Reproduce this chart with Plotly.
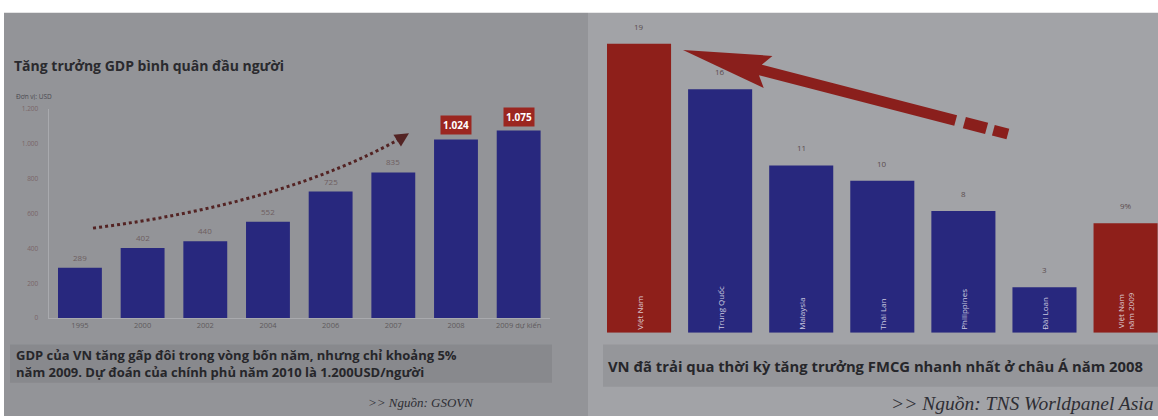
import plotly.graph_objects as go
import math

W, H = 1158, 420

# ---------------- data ----------------
gdp_years = ["1995", "2000", "2002", "2004", "2006", "2007", "2008", "2009 dự kiến"]
gdp_values = [289, 402, 440, 552, 725, 835, 1024, 1075]
gdp_labels = ["289", "402", "440", "552", "725", "835", "1.024", "1.075"]
gdp_highlight = [False, False, False, False, False, False, True, True]
gdp_tickvals = [0, 200, 400, 600, 800, 1000, 1200]
gdp_ticktext = ["0", "200", "400", "600", "800", "1.000", "1.200"]

fmcg_countries = ["Việt Nam", "Trung Quốc", "Malaysia", "Thái Lan", "Philippines", "Đài Loan", "Việt Nam<br>năm 2009"]
fmcg_values = [19, 16, 11, 10, 8, 3, 7.2]
fmcg_labels = ["19", "16", "11", "10", "8", "3", "9%"]
fmcg_is_vn = [True, False, False, False, False, False, True]

BLUE = "#28287e"
RED = "#8e1f1a"


def P(px, py):
    return px / W, 1 - py / H


fig = go.Figure()

# left chart bars
fig.add_trace(go.Bar(
    x=list(range(len(gdp_years))), y=gdp_values, marker=dict(color=BLUE, line=dict(width=0)),
    width=0.7, xaxis="x", yaxis="y", showlegend=False, hoverinfo="skip"))

# right chart bars
fig.add_trace(go.Bar(
    x=list(range(len(fmcg_countries))), y=fmcg_values, width=0.79,
    marker=dict(color=[RED if v else BLUE for v in fmcg_is_vn], line=dict(width=0)),
    text=fmcg_countries, textposition="inside", insidetextanchor="start",
    textangle=-90, textfont=dict(size=8, color="rgba(235,235,245,0.85)", family="Open Sans"),
    xaxis="x2", yaxis="y2", showlegend=False, hoverinfo="skip", cliponaxis=False))

shapes = []
annotations = []

# backgrounds
shapes.append(dict(type="rect", xref="paper", yref="paper", x0=P(4, 0)[0], x1=P(588, 0)[0],
                   y0=0, y1=P(0, 8)[1], fillcolor="#939498", line=dict(width=0), layer="below"))
shapes.append(dict(type="rect", xref="paper", yref="paper", x0=P(588, 0)[0], x1=1,
                   y0=0, y1=P(0, 8)[1], fillcolor="#a2a3a7", line=dict(width=0), layer="below"))

# note bands
shapes.append(dict(type="rect", xref="paper", yref="paper", x0=P(10, 0)[0], x1=P(552, 0)[0],
                   y0=P(0, 386)[1], y1=P(0, 347)[1], fillcolor="#88898d", line=dict(width=0), layer="below"))
shapes.append(dict(type="rect", xref="paper", yref="paper", x0=P(603, 0)[0], x1=1,
                   y0=P(0, 390)[1], y1=P(0, 347)[1], fillcolor="#95969a", line=dict(width=0), layer="below"))

# dotted curved arrow (left)
p0, p1, p2 = P(93, 228), P(285, 203), P(403, 135)
shapes.append(dict(type="path", xref="paper", yref="paper",
                   path=f"M {p0[0]},{p0[1]} Q {p1[0]},{p1[1]} {p2[0]},{p2[1]}",
                   line=dict(color="#532323", width=3, dash="dot")))
hx, hy = P(409, 131)
annotations.append(dict(xref="paper", yref="paper", x=hx, y=hy, ax=-11, ay=7, text="",
                        showarrow=True, arrowhead=2, arrowsize=1.4, arrowwidth=2,
                        arrowcolor="#532323", standoff=0))

# big red arrow (right)
tip = (683, 46)
tail = (1005, 131)
dx, dy = tail[0] - tip[0], tail[1] - tip[1]
Ln = math.hypot(dx, dy)
d = (dx / Ln, dy / Ln)
n = (-d[1], d[0])


def pt(t, s):
    return P(tip[0] + d[0] * t + n[0] * s, tip[1] + d[1] * t + n[1] * s)


poly = [pt(0, 0), pt(88, 17), pt(80, 5.5), pt(282, 5.5), pt(282, -5.5), pt(80, -5.5), pt(88, -17)]
path = "M " + " L ".join(f"{a},{b}" for a, b in poly) + " Z"
shapes.append(dict(type="path", xref="paper", yref="paper", path=path,
                   fillcolor="#8a1f1c", line=dict(width=0)))
for t0, t1, hw in [(291, 314, 6), (321, 336, 5.5)]:
    seg = [pt(t0, hw), pt(t1, hw), pt(t1, -hw), pt(t0, -hw)]
    shapes.append(dict(type="path", xref="paper", yref="paper",
                       path="M " + " L ".join(f"{a},{b}" for a, b in seg) + " Z",
                       fillcolor="#8a1f1c", line=dict(width=0)))

# left value labels
for i, (v, lab, hl) in enumerate(zip(gdp_values, gdp_labels, gdp_highlight)):
    if hl:
        annotations.append(dict(x=i, y=v, xref="x", yref="y", text=f"<b>{lab}</b>",
                                showarrow=False, yanchor="bottom", yshift=4,
                                font=dict(size=10, color="white", family="Open Sans"),
                                bgcolor="#9b2620", borderpad=2))
    else:
        annotations.append(dict(x=i, y=v, xref="x", yref="y", text=lab,
                                showarrow=False, yanchor="bottom", yshift=3,
                                font=dict(size=8, color="#6e5e60", family="Open Sans")))

# right value labels
for i, (v, lab) in enumerate(zip(fmcg_values, fmcg_labels)):
    annotations.append(dict(x=i, y=v, xref="x2", yref="y2", text=lab,
                            showarrow=False, yanchor="bottom", yshift=10,
                            font=dict(size=8, color="#5a4c4e", family="Open Sans")))

# titles and notes
tx, ty = P(12, 62)
annotations.append(dict(xref="paper", yref="paper", x=tx, y=ty, xanchor="left", yanchor="middle",
                        text="<b>Tăng trưởng GDP bình quân đầu người</b>", showarrow=False,
                        font=dict(size=14, color="#2a2a2e", family="Open Sans")))
tx, ty = P(14, 93)
annotations.append(dict(xref="paper", yref="paper", x=tx, y=ty, xanchor="left", yanchor="middle",
                        text="Đơn vị: USD", showarrow=False,
                        font=dict(size=6.5, color="#4a4a50", family="Open Sans")))
tx, ty = P(14, 366)
annotations.append(dict(xref="paper", yref="paper", x=tx, y=ty, xanchor="left", yanchor="middle",
                        text="<b>GDP của VN tăng gấp đôi trong vòng bốn năm, nhưng chỉ khoảng 5%<br>"
                             "năm 2009. Dự đoán của chính phủ năm 2010 là 1.200USD/người</b>",
                        align="left", showarrow=False,
                        font=dict(size=13, color="#26262a", family="Open Sans")))
tx, ty = P(606, 369)
annotations.append(dict(xref="paper", yref="paper", x=tx, y=ty, xanchor="left", yanchor="middle",
                        text="<b>VN đã trải qua thời kỳ tăng trưởng FMCG nhanh nhất ở châu Á năm 2008</b>",
                        showarrow=False,
                        font=dict(size=14.8, color="#26262a", family="Open Sans")))
tx, ty = P(476, 406)
annotations.append(dict(xref="paper", yref="paper", x=tx, y=ty, xanchor="right", yanchor="middle",
                        text="<i>&gt;&gt; Nguồn: GSOVN</i>", showarrow=False,
                        font=dict(size=13, color="#2e2e34", family="Liberation Serif")))
tx, ty = P(1156, 407)
annotations.append(dict(xref="paper", yref="paper", x=tx, y=ty, xanchor="right", yanchor="middle",
                        text="<i>&gt;&gt; Nguồn: TNS Worldpanel Asia</i>", showarrow=False,
                        font=dict(size=19.5, color="#2e2e34", family="Liberation Serif")))

fig.update_layout(
    width=W, height=H, margin=dict(l=0, r=0, t=0, b=0),
    paper_bgcolor="white", plot_bgcolor="rgba(0,0,0,0)",
    font=dict(family="Open Sans"),
    shapes=shapes, annotations=annotations,
    xaxis=dict(domain=[48.6 / W, 550 / W], range=[-0.5, 7.5],
               tickvals=list(range(len(gdp_years))), ticktext=gdp_years,
               showgrid=False, zeroline=False, showline=True, linecolor="#a9aaae", linewidth=1,
               ticks="", tickfont=dict(size=7.5, color="#5e5a5c"), anchor="y"),
    yaxis=dict(domain=[1 - 320 / H, 1 - 106 / H], range=[0, 1200],
               tickvals=gdp_tickvals, ticktext=gdp_ticktext, showgrid=False, zeroline=False,
               showline=True, linecolor="#a9aaae", linewidth=1, ticks="",
               ticklabelstandoff=8,
               tickfont=dict(size=6.5, color="#7a6668"), anchor="x"),
    xaxis2=dict(domain=[598.5 / W, 1], range=[-0.5, 6.4], showgrid=False, zeroline=False,
                showline=False, showticklabels=False, anchor="y2"),
    yaxis2=dict(domain=[1 - 335 / H, 1 - 24 / H], range=[0, 20], showgrid=False, zeroline=False,
                showline=False, showticklabels=False, anchor="x2"),
)

fig.write_html("out.html")
